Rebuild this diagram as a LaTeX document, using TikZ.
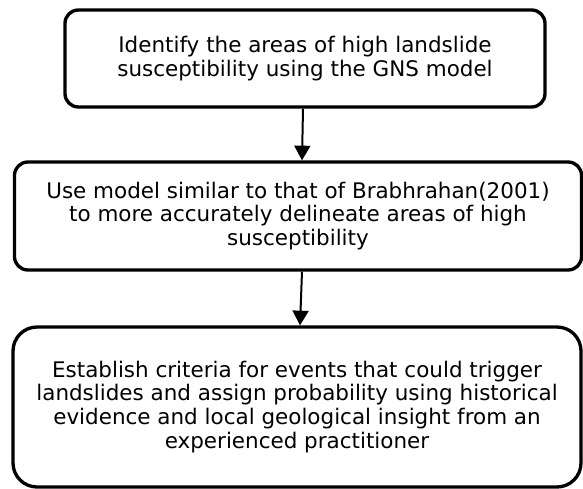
\documentclass[tikz,border=0pt]{standalone}
\usepackage{fontspec}
\setmainfont{DejaVu Sans}
\usetikzlibrary{arrows.meta}

\begin{document}
\begin{tikzpicture}[x=0.75pt, y=-0.75pt,
  stage/.style={draw, line width=2.5pt, rounded corners=10pt, align=center, inner sep=0pt,
    font=\fontsize{16.1}{17.9}\selectfont},
  flow/.style={line width=1.5pt, -{Triangle[length=11pt, width=12pt]}}]
\useasboundingbox (0,0) rectangle (583,489);
\node[stage, minimum width=360pt, minimum height=72.75pt] (identify) at (305,58.5)
  {Identify the areas of high landslide\\susceptibility using the GNS model};
\node[stage, minimum width=425.25pt, minimum height=81pt] (delineate) at (298,216)
  {Use model similar to that of Brabhrahan(2001)\\to more accurately delineate areas of high\\susceptibility};
\node[stage, rounded corners=18pt, minimum width=426pt, minimum height=120pt] (trigger) at (297,407)
  {Establish criteria for events that could trigger\\landslides and assign probability using historical\\evidence and local geological insight from an\\experienced practitioner};
\draw[flow] ([xshift=-1.5pt]identify.south) -- ([xshift=3pt]delineate.north);
\draw[flow] ([xshift=3pt]delineate.south) -- ([xshift=2.25pt]trigger.north);
\end{tikzpicture}
\end{document}
